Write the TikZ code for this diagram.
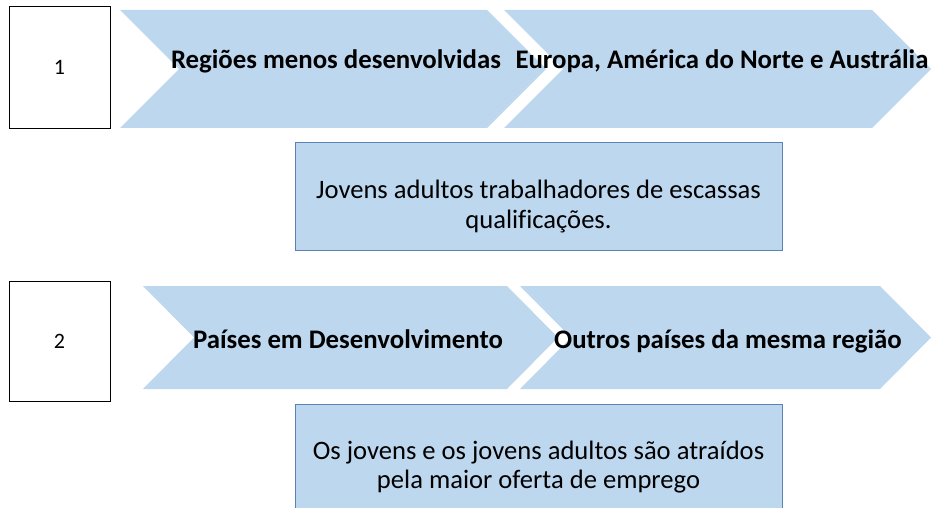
\documentclass[tikz,border=0pt]{standalone}
\usepackage{fontspec}
\setmainfont{Carlito}[Ligatures={NoCommon}]
\definecolor{chevfill}{RGB}{189,215,238}
\definecolor{boxline}{RGB}{90,130,180}
\begin{document}
\begin{tikzpicture}[x=1pt,y=-1pt,
  numbox/.style={draw=black,line width=0.9pt,fill=white},
  chev/.style={fill=chevfill,draw=none},
  infobox/.style={fill=chevfill,draw=boxline,line width=1pt},
  boldtxt/.style={font=\fontsize{26.8}{30}\selectfont\bfseries,inner sep=0pt,anchor=base},
  plaintxt/.style={font=\fontsize{26.6}{30}\selectfont,inner sep=0pt,anchor=base}]
\useasboundingbox (0,0) rectangle (931,508);
% row 1
\draw[numbox] (9,6) rectangle (110,128);
\node[inner sep=0pt] (n1) at (59.5,67) {\fontsize{22}{26}\selectfont 1};
\fill[chev] (120,10) -- (487,10) -- (546,69) -- (487,128) -- (120,128) -- (179,69) -- cycle;
\fill[chev] (504,10) -- (872,10) -- (931,69) -- (872,128) -- (504,128) -- (563,69) -- cycle;
\node[boldtxt] (c1) at (336,69) {Regiões menos desenvolvidas};
\node[boldtxt] (c2) at (722,69) {Europa, América do Norte e Austrália};
\draw[infobox] (295,142) rectangle (782,250);
\node[plaintxt] (q1a) at (538.5,198) {Jovens adultos trabalhadores de escassas};
\node[plaintxt] (q1b) at (538.5,228) {qualificações.};
% row 2
\draw[numbox] (9,281) rectangle (110,401);
\node[inner sep=0pt] (n2) at (59.5,341) {\fontsize{22}{26}\selectfont 2};
\fill[chev] (143,286) -- (507,286) -- (558,337.5) -- (507,389) -- (143,389) -- (194,337.5) -- cycle;
\fill[chev] (520,286) -- (880,286) -- (931,337.5) -- (880,389) -- (520,389) -- (571,337.5) -- cycle;
\node[boldtxt] (c3) at (348,348) {Países em Desenvolvimento};
\node[boldtxt] (c4) at (728,348) {Outros países da mesma região};
\draw[infobox] (295,404) rectangle (782,520);
\node[plaintxt] (q2a) at (538.5,459) {Os jovens e os jovens adultos são atraídos};
\node[plaintxt] (q2b) at (538.5,488) {pela maior oferta de emprego};
\end{tikzpicture}
\end{document}
